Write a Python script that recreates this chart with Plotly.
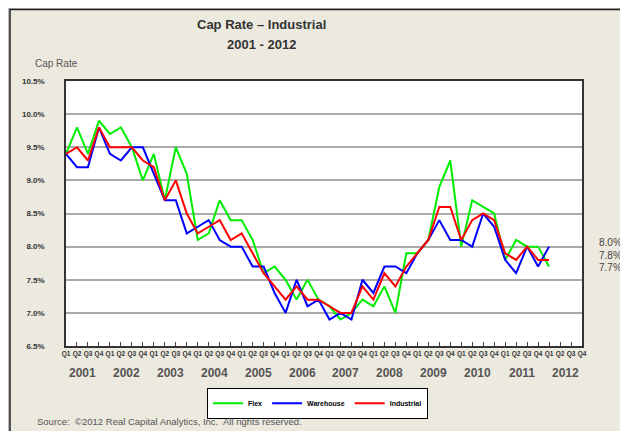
import plotly.graph_objects as go

years = [str(y) for y in range(2001, 2013)]
quarters = ["Q1", "Q2", "Q3", "Q4"]
tick_labels = [q for _ in years for q in quarters]

flex = [9.4, 9.8, 9.4, 9.9, 9.7, 9.8, 9.5, 9.0, 9.4, 8.7,
        9.5, 9.1, 8.1, 8.2, 8.7, 8.4, 8.4, 8.1, 7.6, 7.7,
        7.5, 7.2, 7.5, 7.2, 7.1, 6.9, 7.0, 7.2, 7.1, 7.4,
        7.0, 7.9, 7.9, 8.1, 8.9, 9.3, 8.0, 8.7, 8.6, 8.5,
        7.8, 8.1, 8.0, 8.0, 7.7]
warehouse = [9.4, 9.2, 9.2, 9.8, 9.4, 9.3, 9.5, 9.5, 9.1, 8.7,
             8.7, 8.2, 8.3, 8.4, 8.1, 8.0, 8.0, 7.7, 7.7, 7.3,
             7.0, 7.5, 7.1, 7.2, 6.9, 7.0, 6.9, 7.5, 7.3, 7.7,
             7.7, 7.6, 7.9, 8.1, 8.4, 8.1, 8.1, 8.0, 8.5, 8.3,
             7.8, 7.6, 8.0, 7.7, 8.0]
industrial = [9.4, 9.5, 9.3, 9.8, 9.5, 9.5, 9.5, 9.3, 9.2, 8.7,
              9.0, 8.5, 8.2, 8.3, 8.4, 8.1, 8.2, 7.9, 7.6, 7.4,
              7.2, 7.4, 7.2, 7.2, 7.1, 7.0, 7.0, 7.4, 7.2, 7.6,
              7.4, 7.7, 7.9, 8.1, 8.6, 8.6, 8.1, 8.4, 8.5, 8.4,
              7.9, 7.8, 8.0, 7.8, 7.8]
y_ticks = [6.5, 7.0, 7.5, 8.0, 8.5, 9.0, 9.5, 10.0, 10.5]
end_labels = ["8.0%", "7.8%", "7.7%"]

# page has an 8px body margin: figure starts at screen (8, 8)
OFF = 8
# plot area in screen pixels
L, R, T, B = 66, 582, 81, 348
W, H = R - L, B - T
def px(x):
    return (x - L) / W
def py(y):
    return (B - y) / H

FONT = "Liberation Sans, Arial, sans-serif"
xs = list(range(len(flex)))

fig = go.Figure()
fig.add_trace(go.Scatter(x=xs, y=flex, mode="lines", name="Flex",
                         line=dict(color="#00EE00", width=2)))
fig.add_trace(go.Scatter(x=xs, y=warehouse, mode="lines", name="Warehouse",
                         line=dict(color="#0000FF", width=2)))
fig.add_trace(go.Scatter(x=xs, y=industrial, mode="lines", name="Industrial",
                         line=dict(color="#FF0000", width=2)))

annotations = [
    dict(text="<b>Cap Rate – Industrial</b>", x=px(261), y=py(24), xref="paper", yref="paper",
         showarrow=False, font=dict(family=FONT, size=13, color="#333333"), xanchor="center", yanchor="middle"),
    dict(text="<b>2001 - 2012</b>", x=px(261), y=py(44), xref="paper", yref="paper",
         showarrow=False, font=dict(family=FONT, size=13, color="#333333"), xanchor="center", yanchor="middle"),
    dict(text="Cap Rate", x=px(33), y=py(63), xref="paper", yref="paper",
         showarrow=False, font=dict(family=FONT, size=10, color="#555555"), xanchor="left", yanchor="middle"),
    dict(text="Source:  ©2012 Real Capital Analytics, Inc.  All rights reserved.", x=px(35), y=py(424),
         xref="paper", yref="paper", showarrow=False,
         font=dict(family=FONT, size=9.5, color="#555555"), xanchor="left", yanchor="middle"),
]
for k, yr in enumerate(years):
    annotations.append(dict(text="<b>" + yr + "</b>", x=4 * k + 1.5, y=py(375), xref="x", yref="paper",
                            showarrow=False, font=dict(family=FONT, size=12, color="#555555"),
                            xanchor="center", yanchor="middle"))
for lab, yy in zip(end_labels, [244, 256.5, 269]):
    annotations.append(dict(text=lab, x=px(597), y=py(yy), xref="paper", yref="paper",
                            showarrow=False, font=dict(family=FONT, size=10, color="#444444"),
                            xanchor="left", yanchor="middle"))

shapes = [
    # white outer strip on the left
    dict(type="rect", xref="paper", yref="paper", x0=px(0), x1=px(10), y0=py(440), y1=py(0),
         fillcolor="white", line=dict(width=0), layer="above"),
    # frame shadow + frame
    dict(type="rect", xref="paper", yref="paper", x0=px(8.5), x1=px(625), y0=py(445), y1=py(8.5),
         fillcolor="rgba(0,0,0,0)", line=dict(color="#BBBBBB", width=2), layer="above"),
    dict(type="rect", xref="paper", yref="paper", x0=px(10), x1=px(624), y0=py(445), y1=py(9),
         fillcolor="rgba(0,0,0,0)", line=dict(color="#222222", width=1.5), layer="above"),
]

fig.update_layout(
    width=628 - OFF, height=431 - OFF,
    margin=dict(l=L - OFF, r=628 - R, t=T - OFF, b=431 - B),
    paper_bgcolor="#ECE9DF",
    plot_bgcolor="white",
    showlegend=True,
    legend=dict(orientation="h", x=px(207), y=py(390), xanchor="left", yanchor="top",
                bgcolor="white", bordercolor="#000000", borderwidth=1,
                font=dict(family=FONT, size=7, color="#000000", weight="bold"),
                itemwidth=30),
    annotations=annotations,
    shapes=shapes,
    xaxis=dict(range=[0, 47], tickmode="array", tickvals=list(range(48)), ticktext=tick_labels,
               tickangle=0, ticks="inside", ticklen=4, tickcolor="#444444", tickwidth=1,
               tickfont=dict(family=FONT, size=6.5, color="#333333", weight="bold"),
               showgrid=False, zeroline=False, showline=True, mirror=True,
               linecolor="#333333", linewidth=1.5),
    yaxis=dict(range=[6.5, 10.5], tickmode="array", tickvals=y_ticks,
               ticktext=["%.1f%%" % v for v in y_ticks],
               tickfont=dict(family=FONT, size=8, color="#333333", weight="bold"),
               ticklabelstandoff=18,
               showgrid=True, gridcolor="#AAAAAA", gridwidth=1.5, zeroline=False,
               showline=True, mirror=True, linecolor="#333333", linewidth=1.5),
)

fig.write_html("out.html")
